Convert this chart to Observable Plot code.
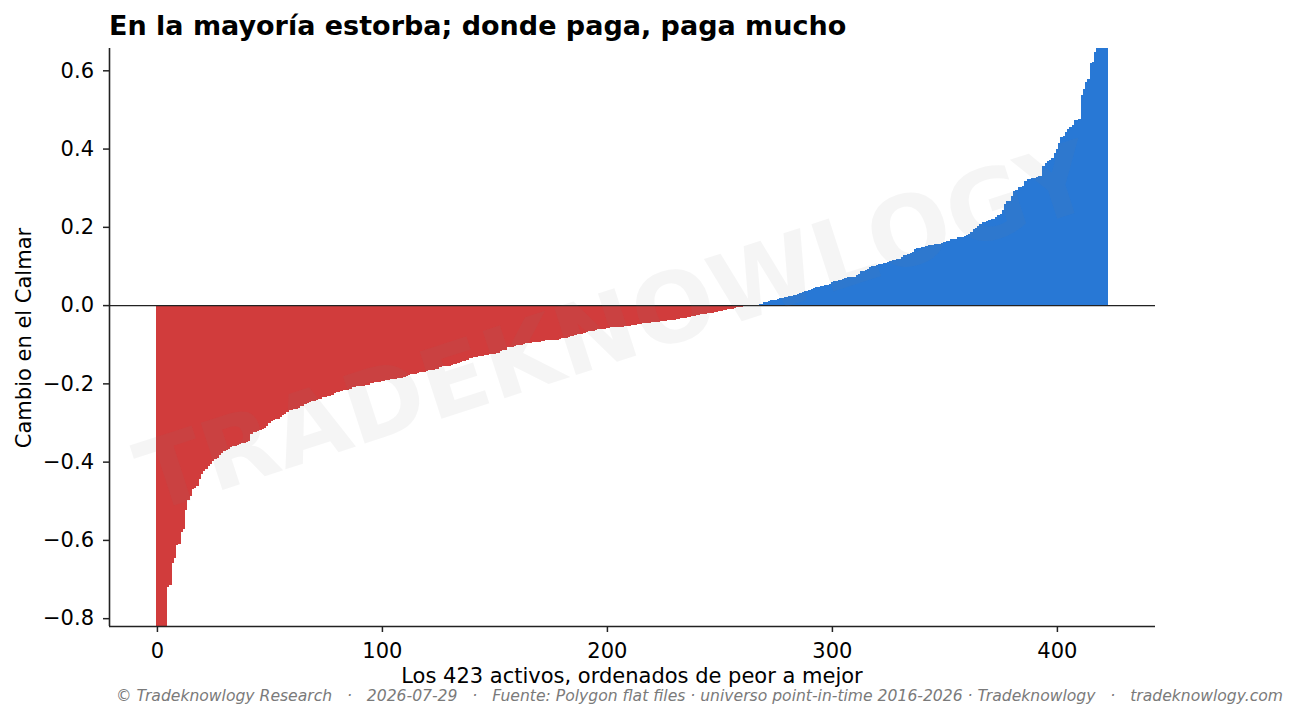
<!DOCTYPE html>
<html>
<head>
<meta charset="utf-8">
<script src="https://cdn.jsdelivr.net/npm/d3@7"></script>
<script src="https://cdn.jsdelivr.net/npm/@observablehq/plot@0.6"></script>
<style>
  html, body { margin: 0; padding: 0; background: #fff; }
  #wrap { position: relative; width: 1298px; height: 717px; overflow: hidden; font-family: "DejaVu Sans", sans-serif; }
  #wrap svg { position: absolute; left: 0; top: 0; }
  .txt { position: absolute; white-space: pre; line-height: 1; }
  #title { left: 109px; top: 12px; font-size: 27px; font-weight: bold; color: #000; }
  #xlabel { left: 632px; top: 668.5px; font-size: 21px; line-height: 0.7; color: #000; transform: translateX(-50%); }
  #ylabel { left: 24px; top: 338px; font-size: 21px; color: #000; transform: translate(-50%, -50%) rotate(-90deg); }
  #footer { right: 15px; top: 691px; font-size: 15.6px; line-height: 0.75; font-style: italic; color: #7a7a7a; }
</style>
</head>
<body>
<div id="wrap">
  <div class="txt" id="title"></div>
  <div class="txt" id="ylabel"></div>
  <div class="txt" id="xlabel"></div>
  <div class="txt" id="footer"></div>
</div>
<script>
// ---- Text ----
const titleText = "En la mayoría estorba; donde paga, paga mucho";
const xLabelText = "Los 423 activos, ordenados de peor a mejor";
const yLabelText = "Cambio en el Calmar";
const footerText = "© Tradeknowlogy Research   ·   2026-07-29   ·   Fuente: Polygon flat files · universo point-in-time 2016-2026 · Tradeknowlogy   ·   tradeknowlogy.com";
const watermarkText = "TRADEKNOWLOGY";

// ---- Axes ----
const xTicks = [0, 100, 200, 300, 400];
const yTicks = [-0.8, -0.6, -0.4, -0.2, 0.0, 0.2, 0.4, 0.6];
const xDomain = [-21.3, 443.6];
const yDomain = [-0.820, 0.657];

// ---- Data: change in Calmar for each of the 423 assets, sorted worst to best ----
const calmarChange = [
  -1.35, -1.10, -0.98, -0.91, -0.86, -0.720, -0.715, -0.660, -0.646, -0.613,
  -0.610, -0.579, -0.571, -0.523, -0.498, -0.489, -0.469, -0.467, -0.462, -0.444,
  -0.432, -0.425, -0.418, -0.412, -0.406, -0.399, -0.394, -0.390, -0.383, -0.378,
  -0.374, -0.369, -0.368, -0.363, -0.361, -0.360, -0.357, -0.355, -0.353, -0.352,
  -0.350, -0.346, -0.329, -0.325, -0.323, -0.322, -0.320, -0.317, -0.314, -0.310,
  -0.302, -0.297, -0.293, -0.291, -0.290, -0.286, -0.282, -0.278, -0.274, -0.269,
  -0.268, -0.266, -0.265, -0.262, -0.258, -0.257, -0.252, -0.251, -0.247, -0.246,
  -0.245, -0.243, -0.241, -0.240, -0.236, -0.235, -0.233, -0.231, -0.229, -0.224,
  -0.222, -0.221, -0.220, -0.218, -0.217, -0.216, -0.214, -0.210, -0.209, -0.207,
  -0.207, -0.206, -0.206, -0.205, -0.204, -0.199, -0.198, -0.197, -0.197, -0.196,
  -0.195, -0.193, -0.192, -0.191, -0.190, -0.189, -0.188, -0.187, -0.186, -0.185,
  -0.183, -0.181, -0.179, -0.177, -0.176, -0.175, -0.173, -0.172, -0.171, -0.170,
  -0.168, -0.167, -0.166, -0.165, -0.164, -0.163, -0.157, -0.156, -0.156, -0.155,
  -0.155, -0.154, -0.151, -0.150, -0.149, -0.145, -0.144, -0.143, -0.139, -0.135,
  -0.134, -0.133, -0.132, -0.131, -0.130, -0.129, -0.128, -0.127, -0.126, -0.125,
  -0.124, -0.123, -0.122, -0.118, -0.115, -0.114, -0.108, -0.107, -0.106, -0.104,
  -0.103, -0.102, -0.101, -0.100, -0.098, -0.097, -0.096, -0.095, -0.094, -0.094,
  -0.093, -0.092, -0.091, -0.090, -0.090, -0.089, -0.089, -0.088, -0.088, -0.087,
  -0.085, -0.084, -0.083, -0.082, -0.079, -0.078, -0.077, -0.075, -0.074, -0.073,
  -0.072, -0.068, -0.067, -0.066, -0.065, -0.064, -0.062, -0.062, -0.061, -0.060,
  -0.058, -0.058, -0.057, -0.057, -0.056, -0.056, -0.055, -0.055, -0.054, -0.054,
  -0.053, -0.052, -0.051, -0.050, -0.049, -0.048, -0.047, -0.047, -0.046, -0.045,
  -0.044, -0.044, -0.043, -0.042, -0.041, -0.041, -0.040, -0.039, -0.038, -0.038,
  -0.037, -0.036, -0.035, -0.034, -0.033, -0.032, -0.031, -0.030, -0.029, -0.028,
  -0.026, -0.025, -0.024, -0.023, -0.022, -0.021, -0.020, -0.019, -0.018, -0.017,
  -0.015, -0.014, -0.013, -0.012, -0.011, -0.010, -0.009, -0.007, -0.006, -0.005,
  -0.004, -0.003, -0.002, -0.002, -0.001, -0.001, -0.0005, 0.0005, 0.003, 0.004,
  0.007, 0.009, 0.011, 0.013, 0.013, 0.014, 0.016, 0.017, 0.018, 0.020,
  0.021, 0.022, 0.023, 0.025, 0.027, 0.029, 0.031, 0.034, 0.035, 0.037,
  0.038, 0.040, 0.043, 0.045, 0.046, 0.048, 0.050, 0.051, 0.052, 0.054,
  0.058, 0.061, 0.062, 0.063, 0.064, 0.066, 0.070, 0.071, 0.071, 0.072,
  0.073, 0.076, 0.080, 0.087, 0.088, 0.090, 0.093, 0.098, 0.099, 0.101,
  0.103, 0.105, 0.106, 0.107, 0.108, 0.110, 0.113, 0.114, 0.115, 0.117,
  0.119, 0.122, 0.127, 0.129, 0.130, 0.132, 0.136, 0.143, 0.146, 0.147,
  0.148, 0.149, 0.150, 0.153, 0.154, 0.154, 0.155, 0.156, 0.157, 0.158,
  0.160, 0.163, 0.165, 0.168, 0.169, 0.170, 0.173, 0.173, 0.175, 0.176,
  0.179, 0.181, 0.188, 0.195, 0.197, 0.203, 0.207, 0.212, 0.213, 0.215,
  0.218, 0.219, 0.220, 0.224, 0.231, 0.234, 0.244, 0.259, 0.265, 0.267,
  0.279, 0.291, 0.295, 0.302, 0.303, 0.304, 0.316, 0.321, 0.322, 0.324,
  0.325, 0.327, 0.329, 0.330, 0.356, 0.363, 0.368, 0.372, 0.375, 0.389,
  0.399, 0.415, 0.429, 0.431, 0.443, 0.450, 0.456, 0.459, 0.472, 0.474,
  0.476, 0.536, 0.551, 0.571, 0.577, 0.618, 0.621, 0.648, 0.70, 0.76,
  0.84, 0.98, 1.25
];

const negColor = "#d13c3c";
const posColor = "#2878d5";
const axisColor = "#222222";

const data = calmarChange.map((v, i) => ({rank: i, v}));

document.getElementById("title").textContent = titleText;
document.getElementById("xlabel").textContent = xLabelText;
document.getElementById("ylabel").textContent = yLabelText;
document.getElementById("footer").textContent = footerText;

const chart = Plot.plot({
  width: 1298,
  height: 717,
  marginTop: 48,
  marginRight: 143,
  marginBottom: 91,
  marginLeft: 109,
  style: {fontFamily: "DejaVu Sans, sans-serif", fontSize: "21px", color: "#000", background: "transparent", overflow: "visible"},
  x: {domain: xDomain},
  y: {domain: yDomain},
  marks: [
    Plot.rectY(data, {
      filter: d => d.v < 0,
      x1: d => d.rank - 0.5, x2: d => d.rank + 0.5, y: "v",
      fill: negColor, clip: true, shapeRendering: "crispEdges"
    }),
    Plot.rectY(data, {
      filter: d => d.v >= 0,
      x1: d => d.rank - 0.5, x2: d => d.rank + 0.5, y: "v",
      fill: posColor, clip: true, shapeRendering: "crispEdges"
    }),
    Plot.ruleY([0], {stroke: axisColor, strokeWidth: 1.3}),
    Plot.text([watermarkText], {
      frameAnchor: "middle", dx: -17, dy: -8, rotate: -18,
      fontSize: 97, fontWeight: "bold", fontFamily: "DejaVu Sans",
      fill: "#808080", fillOpacity: 0.08
    }),
    Plot.axisX({ticks: xTicks, tickSize: 6, tickPadding: 10.4, label: null, stroke: axisColor, strokeWidth: 1.5, fontSize: 21}),
    Plot.axisY({ticks: yTicks, tickFormat: d3.format(".1f"), tickSize: 6, tickPadding: 9.5, label: null, stroke: axisColor, strokeWidth: 1.5, fontSize: 21}),
    Plot.ruleX([xDomain[0]], {stroke: axisColor, strokeWidth: 1.6}),
    Plot.ruleY([yDomain[0]], {stroke: axisColor, strokeWidth: 1.6})
  ]
});

document.getElementById("wrap").prepend(chart);
</script>
</body>
</html>
